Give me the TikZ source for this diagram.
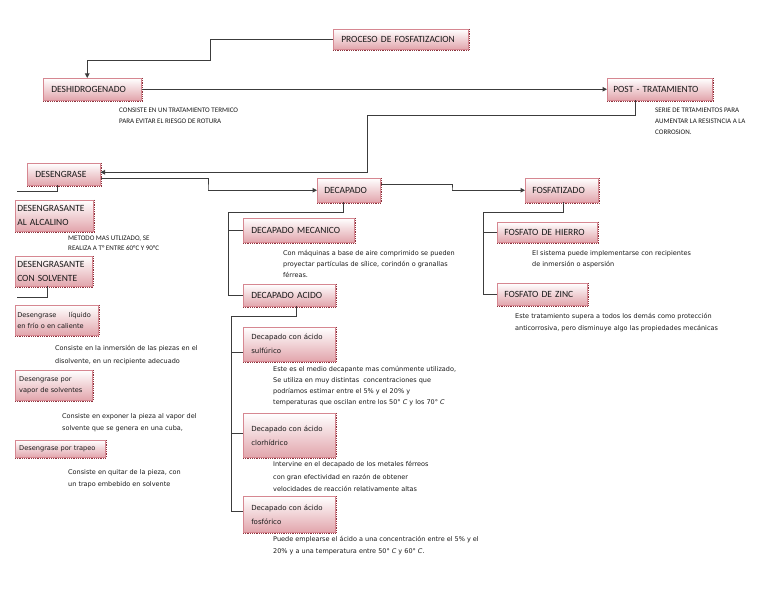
\documentclass[tikz,border=0pt]{standalone}
\usepackage{fontspec}
\setmainfont{Carlito}
\newfontfamily\comicf{DejaVu Sans}
\usetikzlibrary{arrows.meta}
\definecolor{boxbot}{RGB}{226,165,172}
\definecolor{boxline}{RGB}{214,135,145}
\definecolor{shadowc}{RGB}{140,50,60}
\definecolor{linec}{RGB}{60,60,60}
\definecolor{txt}{RGB}{25,25,25}
\begin{document}
\begin{tikzpicture}[x=1pt,y=-1pt,
  box/.style={draw=boxline, line width=0.5pt, top color=white, bottom color=boxbot,
    rectangle, anchor=north west, inner xsep=8pt, inner ysep=0pt, align=left,
    font=\fontsize{9.5}{14}\selectfont, text=txt},
  cbox/.style={box, font=\comicf\fontsize{7}{14}\selectfont},
  lcbox/.style={box, font=\comicf\fontsize{6.6}{10.5}\selectfont},
  capdesc/.style={anchor=north west, inner sep=0pt, align=left, text=txt,
    font=\fontsize{7}{11}\selectfont},
  cdesc/.style={anchor=north west, inner sep=0pt, align=left, text=txt,
    font=\comicf\fontsize{6.5}{11.5}\selectfont},
  conn/.style={draw=linec, line width=1pt},
  arr/.style={-{Triangle[length=4.5pt,width=4.5pt]}},
  shad/.style={draw=shadowc, line width=0.7pt, dash pattern=on 1pt off 0.8pt}
]
\useasboundingbox (0,0) rectangle (768,593);

% main boxes
\node[box, text width=119pt, minimum height=20pt] (proc) at (333,29) {PROCESO DE FOSFATIZACION};
\node[box, text width=82pt, minimum height=22pt] (desh) at (43,78) {DESHIDROGENADO};
\node[box, inner xsep=6pt, text width=93pt, minimum height=22pt] (post) at (607,78) {POST - TRATAMIENTO};
\node[box, text width=57pt, minimum height=22pt] (deseng) at (27,163) {DESENGRASE};

% left column
\node[box, inner xsep=2pt, text width=74pt, minimum height=31pt] (alcal) at (15,200) {DESENGRASANTE\\AL ALCALINO};
\node[box, inner xsep=2pt, text width=73pt, minimum height=30pt] (solv) at (15,256) {DESENGRASANTE\\CON SOLVENTE};
\node[lcbox, inner xsep=2pt, text width=79pt, minimum height=30pt] (liq) at (15,305) {Desengrase\hspace{10pt} líquido\\en frío o en caliente};
\node[lcbox, inner xsep=4pt, text width=69pt, minimum height=30pt] (vapor) at (15,370) {Desengrase por\\vapor de solventes};
\node[lcbox, inner xsep=4pt, text width=82pt, minimum height=17pt] (trapeo) at (15,440) {Desengrase por trapeo};

% decapado
\node[box, inner xsep=7pt, text width=49pt, minimum height=24pt] (decap) at (317,178) {DECAPADO};
\node[box, text width=95pt, minimum height=24pt] (mec) at (243,218) {DECAPADO MECANICO};
\node[box, text width=76pt, minimum height=22pt] (acido) at (243,284) {DECAPADO ACIDO};
\node[cbox, text width=76pt, minimum height=34pt] (sulf) at (243,327) {Decapado con ácido\\sulfúrico};
\node[cbox, text width=76pt, minimum height=44pt] (clor) at (243,413) {Decapado con ácido\\clorhídrico};
\node[cbox, text width=76pt, minimum height=36pt] (fosfo) at (243,496) {Decapado con ácido\\fosfórico};

% fosfatizado
\node[box, inner xsep=7pt, text width=59pt, minimum height=24pt] (fosf) at (525,178) {FOSFATIZADO};
\node[box, inner xsep=7pt, text width=86pt, minimum height=20pt] (hierro) at (497,222) {FOSFATO DE HIERRO};
\node[box, inner xsep=7pt, text width=76pt, minimum height=22pt] (zinc) at (497,283) {FOSFATO DE ZINC};

% shadows
\foreach \n in {proc,desh,post,deseng,alcal,solv,liq,vapor,trapeo,decap,mec,acido,sulf,clor,fosfo,fosf,hierro,zinc}{
  \draw[shad] ([yshift=-1pt]\n.south west) -- ([yshift=-1pt,xshift=1pt]\n.south east);
  \draw[shad] ([xshift=1pt]\n.north east) -- ([xshift=1pt]\n.south east);
}

% descriptions
\node[capdesc] (dDesh) at (119,107.5) {CONSISTE EN UN TRATAMIENTO TERMICO\\PARA EVITAR EL RIESGO DE ROTURA};
\node[capdesc] (dPost) at (655,107.5) {SERIE DE TRTAMIENTOS PARA\\AUMENTAR LA RESISTNCIA A LA\\CORROSION.};
\node[capdesc, font=\fontsize{7}{10.5}\selectfont] (dAlcal) at (68,235.5) {METODO MAS UTLIZADO, SE\\REALIZA A T° ENTRE 60°C Y 90°C};
\node[cdesc, font=\comicf\fontsize{6.5}{12.5}\selectfont] (dLiq) at (55,345.5) {Consiste en la inmersión de las piezas en el\\disolvente, en un recipiente adecuado};
\node[cdesc] (dVapor) at (62,413.5) {Consiste en exponer la pieza al vapor del\\solvente que se genera en una cuba,};
\node[cdesc] (dTrapeo) at (68,469.5) {Consiste en quitar de la pieza, con\\un trapo embebido en solvente};
\node[cdesc, font=\comicf\fontsize{6.5}{10.7}\selectfont] (dMec) at (283,250.5) {Con máquinas a base de aire comprimido se pueden\\proyectar partículas de sílice, corindón o granallas\\férreas.};
\node[cdesc, font=\comicf\fontsize{6.5}{11}\selectfont] (dSulf) at (273,366.5) {Este es el medio decapante mas comúnmente utilizado,\\Se utiliza en muy distintas\ \ concentraciones que\\podríamos estimar entre el 5\% y el 20\% y\\temperaturas que oscilan entre los 50° \textit{C} y los 70° \textit{C}};
\node[cdesc, font=\comicf\fontsize{6.5}{12.3}\selectfont] (dClor) at (273,461.5) {Intervine en el decapado de los metales férreos\\con gran efectividad en razón de obtener\\velocidades de reacción relativamente altas};
\node[cdesc, font=\comicf\fontsize{6.5}{12}\selectfont] (dFosfo) at (273,536.5) {Puede emplearse el ácido a una concentración entre el 5\% y el\\20\% y a una temperatura entre 50° \textit{C} y 60° \textit{C}.};
\node[cdesc, font=\comicf\fontsize{6.5}{11}\selectfont] (dHierro) at (532,250.5) {El sistema puede implementarse con recipientes\\de inmersión o aspersión};
\node[cdesc, font=\comicf\fontsize{6.5}{12}\selectfont] (dZinc) at (515,313.5) {Este tratamiento supera a todos los demás como protección\\anticorrosiva, pero disminuye algo las propiedades mecánicas};

% connectors
\coordinate (c1) at (210,61);
\draw[conn,arr] (proc.west) -| (c1) -| ([xshift=-5pt]desh.north);
\draw[conn,arr] (desh.east) -- (post.west);
\coordinate (c2) at (367,116);
\draw[conn,arr] ([xshift=-24pt]post.south) |- (c2) |- ([yshift=2pt]deseng.east);
\coordinate (c3) at (208,190);
\draw[conn,arr] ([yshift=-4pt]deseng.east) -| (c3) |- (decap.west);
\coordinate (c4) at (452,190);
\draw[conn,arr] ([yshift=6pt]decap.east) -| (c4) |- (fosf.west);

\coordinate (t1) at (483,213);
\draw[conn] ([xshift=1.5pt]fosf.south) |- (t1) |- (zinc.west);
\draw[conn] (t1 |- hierro.west) -- (hierro.west);

\coordinate (t2) at (228,213);
\draw[conn] ([xshift=-5pt]decap.south) |- (t2) |- (acido.west);
\draw[conn] (t2 |- mec.west) -- (mec.west);

\coordinate (t3) at (231,317);
\coordinate (s1) at ([yshift=-8pt]sulf.west);
\coordinate (s2) at ([yshift=2pt]clor.west);
\draw[conn] ([xshift=7pt]acido.south) |- (t3) |- ([yshift=3pt]fosfo.west);
\draw[conn] (t3 |- s1) -- (s1);
\draw[conn] (t3 |- s2) -- (s2);

\coordinate (l1) at (17,192);
\draw[conn] ([xshift=-6.5pt]deseng.south) |- (l1);
\coordinate (l2) at (17,298);
\draw[conn] ([xshift=-6.5pt]solv.south) |- (l2);
\end{tikzpicture}
\end{document}
